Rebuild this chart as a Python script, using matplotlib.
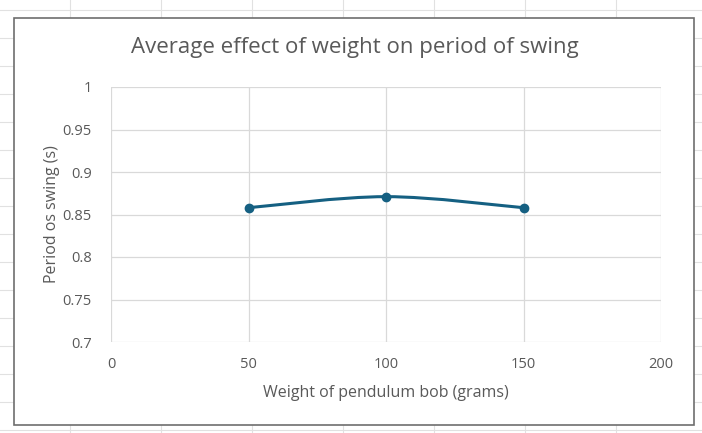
import numpy as np
import matplotlib.pyplot as plt
from matplotlib.path import Path
from matplotlib.patches import PathPatch, Rectangle
from matplotlib.lines import Line2D

# ── Data ──────────────────────────────────────────────────────────────────────
weights = [50, 100, 150]            # grams
periods = [0.858, 0.871, 0.858]     # seconds

x_ticks = [0, 50, 100, 150, 200]
y_ticks = [0.7, 0.75, 0.8, 0.85, 0.9, 0.95, 1.0]
y_tick_labels = ["0.7", "0.75", "0.8", "0.85", "0.9", "0.95", "1"]

TEXT = "#595959"
GRID = "#D9D9D9"
LINE = "#156082"

plt.rcParams["font.family"] = ["Open Sans", "DejaVu Sans"]

W, H = 702, 433
fig = plt.figure(figsize=(W / 100, H / 100), dpi=100)

# ── Spreadsheet cell grid behind the chart ────────────────────────────────────
for xc in np.arange(69.5, W, 91):
    fig.add_artist(Line2D([xc / W, xc / W], [0, 1], color="#E1E1E1", lw=0.8, zorder=0))
for yc in np.arange(10, H, 28):
    fig.add_artist(Line2D([0, 1], [1 - yc / H, 1 - yc / H], color="#E1E1E1", lw=0.8, zorder=0))

# chart area
fig.add_artist(Rectangle((14 / W, 8 / H), 680 / W, 407 / H, facecolor="white",
                         edgecolor="#6E6E6E", lw=1.2, zorder=1))

# ── Plot area ─────────────────────────────────────────────────────────────────
ax = fig.add_axes([111 / W, 91 / H, 550 / W, 255 / H], zorder=2)
ax.set_xlim(0, 200)
ax.set_ylim(0.7, 1.0)
ax.set_xticks(x_ticks)
ax.set_yticks(y_ticks)
ax.set_yticklabels(y_tick_labels)
ax.grid(True, color=GRID, lw=0.9)
ax.set_axisbelow(True)
for s in ax.spines.values():
    s.set_visible(False)
ax.tick_params(length=0, labelsize=10.5, colors=TEXT, pad=14)
ax.tick_params(axis="x", pad=11)

# smoothed line (Catmull-Rom -> cubic Bezier), like Excel's "smoothed line"
pts = np.column_stack([weights, periods])
ext = np.vstack([pts[0], pts, pts[-1]])
verts = [tuple(pts[0])]
codes = [Path.MOVETO]
for i in range(1, len(ext) - 2):
    p0, p1, p2, p3 = ext[i - 1], ext[i], ext[i + 1], ext[i + 2]
    c1 = p1 + (p2 - p0) / 6
    c2 = p2 - (p3 - p1) / 6
    verts += [tuple(c1), tuple(c2), tuple(p2)]
    codes += [Path.CURVE4] * 3
ax.add_patch(PathPatch(Path(verts, codes), facecolor="none", edgecolor=LINE,
                       lw=2.2, capstyle="round", zorder=3))
ax.plot(weights, periods, ls="none", marker="o", ms=6, color=LINE, zorder=4)

ax.set_xlabel("Weight of pendulum bob (grams)", fontsize=11.5, color=TEXT, labelpad=9)
ax.set_ylabel("Period os swing (s)", fontsize=11.5, color=TEXT, labelpad=2)

fig.text(355 / W, 1 - 47 / H, "Average effect of weight on period of swing",
         ha="center", va="center", fontsize=16, color=TEXT)

fig.savefig("out.png", dpi=100)
